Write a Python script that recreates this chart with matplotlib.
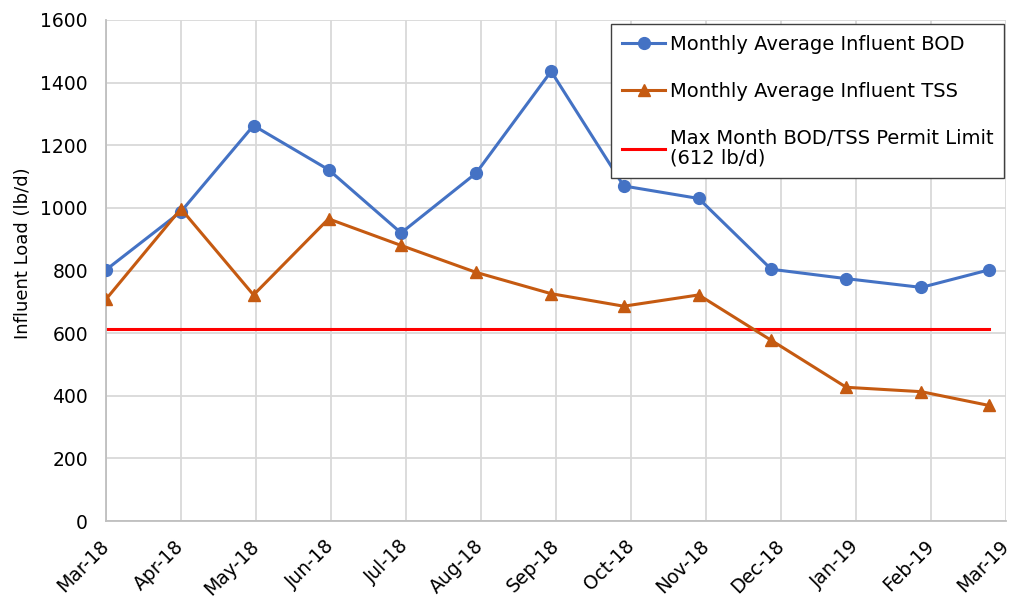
import matplotlib
matplotlib.use("Agg")
import matplotlib.pyplot as plt
import matplotlib.dates as mdates
import numpy as np
import pandas as pd

plt.rcParams["font.family"] = ["DejaVu Sans"]

# monthly sample dates (first of month)
months = ["2018-03-01", "2018-04-01", "2018-05-01", "2018-06-01", "2018-07-01",
          "2018-08-01", "2018-09-01", "2018-10-01", "2018-11-01", "2018-12-01",
          "2019-01-01", "2019-02-01", "2019-03-01"]
bod = [802, 988, 1263, 1122, 920, 1111, 1436, 1070, 1030, 804, 774, 746, 802]
tss = [708, 997, 722, 965, 880, 794, 726, 686, 722, 577, 427, 413, 369]
permit = [612] * len(months)

tick_labels = ["Mar-18", "Apr-18", "May-18", "Jun-18", "Jul-18", "Aug-18", "Sep-18",
               "Oct-18", "Nov-18", "Dec-18", "Jan-19", "Feb-19", "Mar-19"]
TICK_STEP_DAYS = 31  # date axis with a fixed 31-day major unit

BLUE = "#4472C4"
ORANGE = "#C55A11"
RED = "#FF0000"
GRID = "#d9d9d9"

x = mdates.date2num(pd.to_datetime(months))
ticks = x[0] + TICK_STEP_DAYS * np.arange(len(tick_labels))

fig = plt.figure(figsize=(10.11, 5.97), dpi=100)
ax = fig.add_axes([0.1048, 0.1273, 0.8902, 0.8392])

ax.plot(x, bod, color=BLUE, lw=2.2, marker="o", ms=8.5,
        label="Monthly Average Influent BOD", zorder=3)
ax.plot(x, tss, color=ORANGE, lw=2.2, marker="^", ms=8.5,
        label="Monthly Average Influent TSS", zorder=3)
ax.plot(x, permit, color=RED, lw=2.2,
        label="Max Month BOD/TSS Permit Limit\n(612 lb/d)", zorder=2)

ax.set_xlim(ticks[0], ticks[-1])
ax.set_ylim(0, 1600)
ax.set_yticks(np.arange(0, 1601, 200))
ax.set_xticks(ticks)
ax.set_xticklabels(tick_labels, rotation=45, ha="right", va="center",
                   rotation_mode="anchor")
ax.tick_params(axis="both", length=0, labelsize=13.5)
ax.tick_params(axis="y", pad=13)
ax.tick_params(axis="x", pad=16)
ax.set_ylabel("Influent Load (lb/d)", fontsize=13)
ax.yaxis.set_label_coords(-0.082, 0.535)

ax.grid(color=GRID, lw=1.3)
ax.set_axisbelow(True)
for side in ["top", "right"]:
    ax.spines[side].set_visible(False)
for side in ["left", "bottom"]:
    ax.spines[side].set_color("#bfbfbf")
    ax.spines[side].set_linewidth(1.3)

leg = ax.legend(loc="upper right", bbox_to_anchor=(0.998, 0.992), fontsize=14,
                frameon=True, fancybox=False, framealpha=1, edgecolor="#404040",
                handlelength=2.2, handletextpad=0.25, labelspacing=1.45,
                borderpad=0.55, borderaxespad=0)
leg.get_frame().set_linewidth(1.0)
for t in leg.get_texts():
    t.set_linespacing(1.0)

fig.savefig("out.png", dpi=100)
